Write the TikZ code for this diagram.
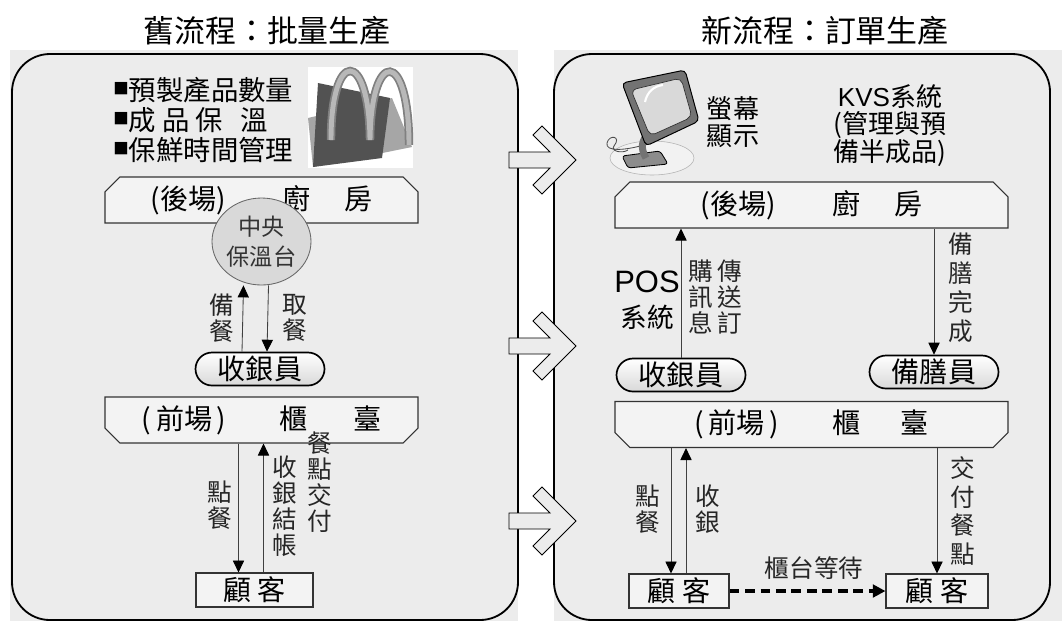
\documentclass[tikz,border=0pt]{standalone}
\usepackage{fontspec}
\setmainfont{Noto Sans CJK TC}
\newfontfamily\latinfont{Liberation Sans}
\usepackage{tikz}
\usetikzlibrary{arrows.meta,positioning,shapes.geometric,shapes.misc}
\definecolor{panelGray}{HTML}{ECECEC}
\definecolor{boxGray}{HTML}{F3F3F3}
\definecolor{warmGray}{HTML}{D9D9D9}
\newcommand{\px}{0.025cm}
\newcommand{\sqbullet}{\raisebox{0.22em}{\fontsize{11}{11}\selectfont ■}}

\begin{document}
\begin{tikzpicture}[
    x=\px, y=-\px,
    every node/.style={inner sep=0pt},
    title/.style={font=\fontsize{22}{24}\selectfont},
    panel/.style={draw=black, line width=1.3pt, rounded corners=27pt},
    banner/.style={chamfered rectangle, chamfered rectangle xsep=7pt,
                   draw=black!80, line width=0.8pt, fill=boxGray,
                   minimum width=313*\px, minimum height=46*\px,
                   font=\fontsize{20}{22}\selectfont},
    kitchen/.style={banner, chamfered rectangle corners={north west,north east}},
    counter/.style={banner, chamfered rectangle corners={south west,south east}},
    pill/.style={rounded rectangle, draw=black, line width=1.2pt,
                 top color=white, bottom color=black!15,
                 minimum width=129*\px, minimum height=33*\px,
                 font=\fontsize{20}{22}\selectfont},
    guest/.style={rectangle, draw=black!80, line width=0.8pt, fill=boxGray,
                  minimum height=34*\px, font=\fontsize{20}{22}\selectfont},
    arr/.style={-{Triangle[length=8.5pt,width=8pt,color=black]},
                line width=0.6pt, draw=black!75},
    dasharr/.style={-{Triangle[length=9pt,width=9pt]}, line width=2.2pt,
                    dash pattern=on 7pt off 4pt},
    lbl/.style={align=center, text=black!85, font=\fontsize{17.5}{#1}\selectfont},
    lbl/.default=18.5,
    blockarr/.style={draw=black, line width=0.6pt, fill=panelGray}
  ]
  \useasboundingbox (0,0) rectangle (1062,621);
  \fill[white] (0,0) rectangle (1062,621);
  \fill[panelGray] (10,50) rectangle (518,621);
  \fill[panelGray] (554,50) rectangle (1062,621);
  \draw[panel] (12,54) rectangle (518,620);
  \draw[panel] (554,54) rectangle (1050,620);
  \foreach \cy in {160,346,521}
    \draw[blockarr] (509,\cy-8) -- (550,\cy-8) -- (533,\cy-25) -- (542,\cy-34)
      -- (576,\cy) -- (542,\cy+34) -- (533,\cy+25) -- (550,\cy+8)
      -- (509,\cy+8) -- cycle;

  \node[title] (oldT) at (267,31) {舊流程：批量生產};
  \node[title] (newT) at (825,31) {新流程：訂單生產};

  %% batch flow
  \node[anchor=west, align=left, font=\fontsize{19.5}{21.5}\selectfont] (notes) at (113,120)
        {\sqbullet 預製產品數量\\
         \sqbullet 成 品 保 \hspace{0.4em}溫\\
         \sqbullet 保鮮時間管理};
  % arches logo
  \fill[white] (308,67) rectangle (413,168);
  \fill[black!35] (308,118) -- (392,98) -- (412,147) -- (313,167) -- cycle;
  \fill[black!68] (318,83) -- (390,98) -- (382,158) -- (313,167) -- cycle;
  \draw[black!50, line width=6pt] (331,140) .. controls (331,48) and (369,48) .. (370,140)
        .. controls (371,48) and (409,48) .. (409,145);
  \draw[black!28, line width=3.5pt] (331,140) .. controls (331,48) and (369,48) .. (370,140)
        .. controls (371,48) and (409,48) .. (409,145);

  \node[kitchen] (kitL) at (261.5,200) {(後場)\hspace{2em}廚\hspace{1.2em}房};
  \node[ellipse, draw=black!60, line width=0.6pt, fill=warmGray,
        minimum width=99*\px, minimum height=87*\px, align=center,
        text=black!80, font=\fontsize{16.5}{21}\selectfont] (warm) at (261.5,241.5)
        {中央\\保溫台};
  \node[pill] (cashL) at (260,369) {收銀員};
  \node[counter] (cntL) at (261.5,420) {(\,前場\,)\hspace{1.9em}櫃\hspace{1.6em}臺};
  \node[guest, minimum width=117*\px] (custL) at (254.5,590) {顧 客};

  \draw[arr] ([xshift=-18*\px]cashL.north) -- ([xshift=-18*\px]warm.south);
  \draw[arr] ([xshift=7*\px]warm.south) -- ([xshift=7*\px]cashL.north);
  \node[lbl] (prepL) at (222,318) {備\\餐};
  \node[lbl] (takeL) at (295,318) {取\\餐};

  \draw[arr] ([xshift=-23*\px]cntL.south) -- ([xshift=-16*\px]custL.north);
  \draw[arr] ([xshift=9*\px]custL.north) -- ([xshift=2*\px]cntL.south);
  \node[lbl] (orderL) at (220,505) {點\\餐};
  \node[lbl] (payL) at (285,506) {收\\銀\\結\\帳};
  \node[lbl] (handL) at (320,482) {餐\\點\\交\\付};

  %% order flow
  % monitor
  \fill[black!5, draw=black!30, line width=0.4pt] (652,158) ellipse [x radius=42, y radius=17];
  \draw[black!70, line width=0.6pt] (640,146) .. controls (625,150) and (605,152) .. (607,143)
        .. controls (609,134) and (622,136) .. (614,146) .. controls (610,151) and (622,154) .. (628,150);
  \filldraw[fill=black!45, draw=black, line width=0.6pt, rounded corners=2pt]
        (622,156) -- (660,151) -- (668,164) -- (628,168) -- cycle;
  \draw[black!55, line width=5pt] (646,158) .. controls (640,148) and (642,140) .. (648,134);
  \filldraw[fill=black!55, draw=black, line width=0.7pt, rounded corners=3pt]
        (622,83) -- (685,70) -- (699,121) -- (646,146) -- cycle;
  \filldraw[fill=black!15, draw=black!80, line width=0.5pt, rounded corners=4pt]
        (631,90) -- (681,78) -- (692,117) -- (650,136) -- cycle;
  \draw[white, line width=1.5pt] (645,102) .. controls (647,92) and (654,86) .. (663,85);

  \node[lbl=19, text=black, font=\fontsize{18.5}{19}\selectfont] (screenR) at (733,122) {螢幕\\顯示};
  \node[align=center, font=\fontsize{18.5}{19}\selectfont] (kvsR) at (890,126)
        {{\latinfont KVS}系統\\(管理與預\\備半成品)};

  \node[kitchen, minimum width=393*\px] (kitR) at (811.5,205) {(後場)\hspace{2em}廚\hspace{1.2em}房};
  \node[pill] (cashR) at (681,375) {收銀員};
  \node[pill] (cookR) at (934,372) {備膳員};
  \node[counter, minimum width=393*\px] (cntR) at (811.5,424.5) {(\,前場\,)\hspace{1.9em}櫃\hspace{1.4em}臺};
  \node[guest, minimum width=100*\px] (custR) at (679,591) {顧 客};
  \node[guest, minimum width=102*\px] (pickR) at (937,591) {顧 客};

  \draw[arr] (cashR.north) -- (cashR.north |- kitR.south);
  \node[align=center, font=\fontsize{19}{25}\selectfont] (posR) at (647,300)
        {{\latinfont\fontsize{22}{22}\selectfont POS}\\系統};
  \node[lbl] (sendA) at (701,297) {購\\訊\\息};
  \node[lbl] (sendB) at (730,297) {傳\\送\\訂};
  \draw[arr] (kitR.south -| cookR.north) -- (cookR.north);
  \node[lbl=20.6] (doneR) at (961,288) {備\\膳\\完\\成};

  \draw[arr] ([xshift=-140.5*\px]cntR.south) -- ([xshift=-8*\px]custR.north);
  \draw[arr] ([xshift=7*\px]custR.north) -- ([xshift=-125.5*\px]cntR.south);
  \node[lbl] (orderR) at (648,509) {點\\餐};
  \node[lbl] (payR) at (708,509) {收\\銀};
  \draw[arr] (cntR.south -| pickR.north) -- (pickR.north);
  \node[lbl=20.6] (handR) at (963,511) {交\\付\\餐\\點};
  \draw[dasharr] (custR.east) -- (pickR.west);
  \node[lbl] (waitR) at (814,568) {櫃台等待};
\end{tikzpicture}
\end{document}
